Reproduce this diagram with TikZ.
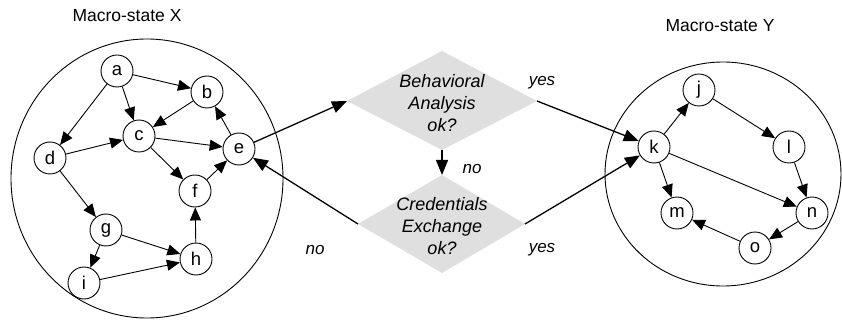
\documentclass[tikz,border=0pt]{standalone}
\usepackage{fontspec}
\setmainfont{Liberation Sans}
\usetikzlibrary{arrows.meta}
\begin{document}
\begin{tikzpicture}[x=1pt,y=-1pt,
  st/.style={circle,draw,line width=0.9pt,minimum size=32pt,inner sep=0pt,font=\fontsize{18.5}{20}\selectfont},
  ed/.style={line width=0.9pt,-{Triangle[length=13pt,width=11pt]}},
  big/.style={line width=1.3pt,-{Triangle[length=15pt,width=12pt]}},
  lbl/.style={font=\fontsize{17}{20}\selectfont\itshape},
  ttl/.style={font=\fontsize{17.5}{20}\selectfont},
  dtext/.style={font=\fontsize{18}{22}\selectfont\itshape,align=center,inner sep=0pt},
  dfill/.style={fill=gray!25,draw=none}]
\useasboundingbox (0,0) rectangle (842,320);
% macro-state circles
\draw[line width=0.9pt] (147,178.5) ellipse [x radius=136, y radius=139.5];
\draw[line width=0.9pt] (723,174) ellipse [x radius=118, y radius=112];
\node[ttl] (tx) at (127,16) {Macro-state X};
\node[ttl] (ty) at (720,26) {Macro-state Y};
% left graph
\node[st] (a) at (117,71) {a};
\node[st] (b) at (207,92) {b};
\node[st] (c) at (139,136) {c};
\node[st] (d) at (50,158) {d};
\node[st] (e) at (239,149) {e};
\node[st] (f) at (195,191) {f};
\node[st] (g) at (106,230) {g};
\node[st] (h) at (196,259) {h};
\node[st] (i) at (84,283) {i};
\draw[ed] (a) -- (b);
\draw[ed] (a) -- (c);
\draw[ed] (a) -- (d);
\draw[ed] (b) -- (c);
\draw[ed] (d) -- (c);
\draw[ed] (c) -- (e);
\draw[ed] (c) -- (f);
\draw[ed] (f) -- (e);
\draw[ed] (e) -- (b);
\draw[ed] (d) -- (g);
\draw[ed] (g) -- (h);
\draw[ed] (g) -- (i);
\draw[ed] (i) -- (h);
\draw[ed] (h) -- (f);
% right graph
\node[st] (j) at (699,90) {j};
\node[st] (k) at (654,147) {k};
\node[st] (l) at (789,147) {l};
\node[st] (m) at (677,213) {m};
\node[st] (n) at (812,213) {n};
\node[st] (o) at (755,248) {o};
\draw[ed] (k) -- (j);
\draw[ed] (j) -- (l);
\draw[ed] (l) -- (n);
\draw[ed] (k) -- (n);
\draw[ed] (k) -- (m);
\draw[ed] (n) -- (o);
\draw[ed] (o) -- (m);
% diamonds
\coordinate (d1l) at (347,101);
\coordinate (d1r) at (537,101);
\coordinate (d1t) at (442,51);
\coordinate (d1b) at (442,150);
\coordinate (d2l) at (358,224);
\coordinate (d2r) at (525,224);
\coordinate (d2t) at (442,175);
\coordinate (d2b) at (442,273);
\fill[dfill] (d1l) -- (d1t) -- (d1r) -- (d1b) -- cycle;
\fill[dfill] (d2l) -- (d2t) -- (d2r) -- (d2b) -- cycle;
\node[dtext] (t1) at (442,103) {Behavioral\\Analysis\\ok?};
\node[dtext] (t2) at (442,226) {Credentials\\Exchange\\ok?};
% connectors
\draw[big] (e) -- (d1l);
\draw[big] (d2l) -- (e);
\draw[big] (d1r) -- (k);
\draw[big] (d2r) -- (k);
\draw[big] (d1b) -- (d2t);
% labels
\node[lbl] (y1) at (542,83) {yes};
\node[lbl] (n1) at (472,169) {no};
\node[lbl] (n2) at (315,250) {no};
\node[lbl] (y2) at (542,250) {yes};
\end{tikzpicture}
\end{document}
